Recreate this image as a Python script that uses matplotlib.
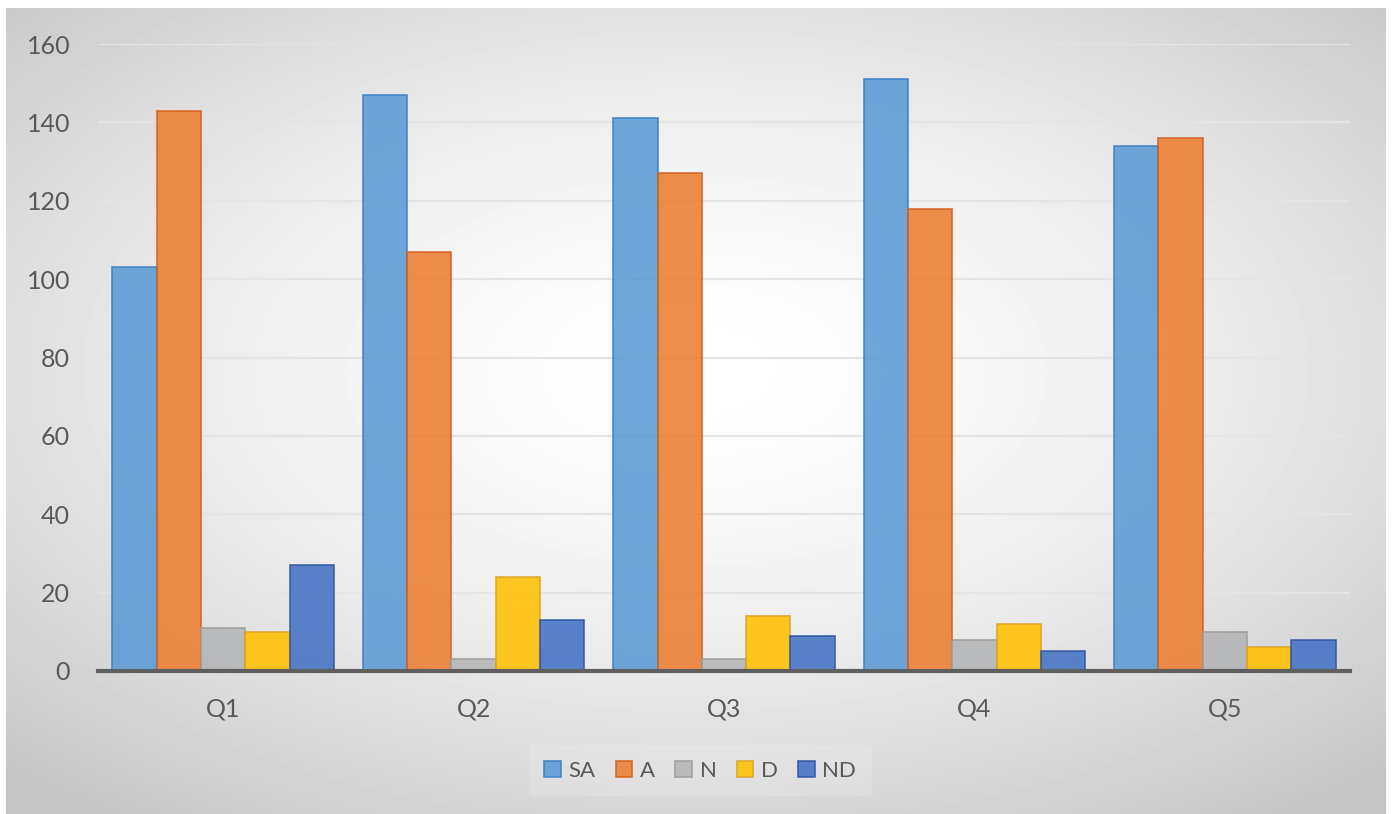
import matplotlib.pyplot as plt
import numpy as np

categories = ["Q1", "Q2", "Q3", "Q4", "Q5"]
series = ["SA", "A", "N", "D", "ND"]
values = {
    "SA": [103, 147, 141, 151, 134],
    "A": [143, 107, 127, 118, 136],
    "N": [11, 3, 3, 8, 10],
    "D": [10, 24, 14, 12, 6],
    "ND": [27, 13, 9, 5, 8],
}
y_ticks = [0, 20, 40, 60, 80, 100, 120, 140, 160]

fills = {"SA": "#5b9bd5", "A": "#ed7d31", "N": "#b4b5b7", "D": "#ffc000", "ND": "#4472c4"}
edges = {"SA": "#3a7fc4", "A": "#d0611c", "N": "#9c9c9c", "D": "#d9a520", "ND": "#2f55a0"}

W, H = 1392, 814
fig = plt.figure(figsize=(W / 100, H / 100), dpi=100)

# radial grey gradient behind the chart area
bg = fig.add_axes([6 / W, 0, 1380 / W, 806 / H], zorder=0)
gx, gy = np.meshgrid(np.linspace(-1, 1, 400), np.linspace(-1, 1, 240))
r = np.sqrt(gx ** 2 + ((gy + 0.1) * 1.05) ** 2) / 1.45
r = np.clip(r, 0, 1)
shade = 1.0 - 0.23 * r ** 1.6
bg.imshow(shade, cmap="gray", vmin=0, vmax=1, aspect="auto", extent=[0, 1, 0, 1],
          interpolation="bicubic")
bg.axis("off")

ax = fig.add_axes([98 / W, 1 - 671 / H, 1252 / W, 627 / H], zorder=1)
ax.patch.set_alpha(0)

x = np.arange(len(categories))
bw = 0.177
for i, s in enumerate(series):
    off = (i - 2) * bw
    ax.bar(x + off, values[s], width=bw, color=fills[s], alpha=0.88,
           edgecolor=edges[s], linewidth=1.2, label=s, zorder=3)

ax.set_xlim(-0.5, len(categories) - 0.5)
ax.set_ylim(0, 160)
ax.set_yticks(y_ticks)
ax.set_xticks(x)
ax.set_xticklabels(categories)
ax.grid(axis="y", color="#e4e4e4", linewidth=1.6, zorder=1)
ax.set_axisbelow(True)
for sp in ["top", "right", "left"]:
    ax.spines[sp].set_visible(False)
ax.spines["bottom"].set_color("#5f5f5f")
ax.spines["bottom"].set_linewidth(3)
ax.spines["bottom"].set_zorder(4)
ax.tick_params(axis="both", length=0, labelsize=18, labelcolor="#595959",
               labelfontfamily="Lato")
ax.tick_params(axis="y", pad=20)
ax.tick_params(axis="x", pad=19)

leg = ax.legend(loc="center", bbox_to_anchor=(0.5030, 0.053), bbox_transform=fig.transFigure,
                ncol=5, frameon=True, prop={"family": "Lato", "size": 16},
                handlelength=0.75, handleheight=0.75, handletextpad=0.35, columnspacing=0.9,
                borderpad=0.7)
leg.get_frame().set_facecolor("white")
leg.get_frame().set_alpha(0.15)
leg.get_frame().set_edgecolor("none")
for t in leg.get_texts():
    t.set_color("#595959")

fig.savefig("out.png", dpi=100)
